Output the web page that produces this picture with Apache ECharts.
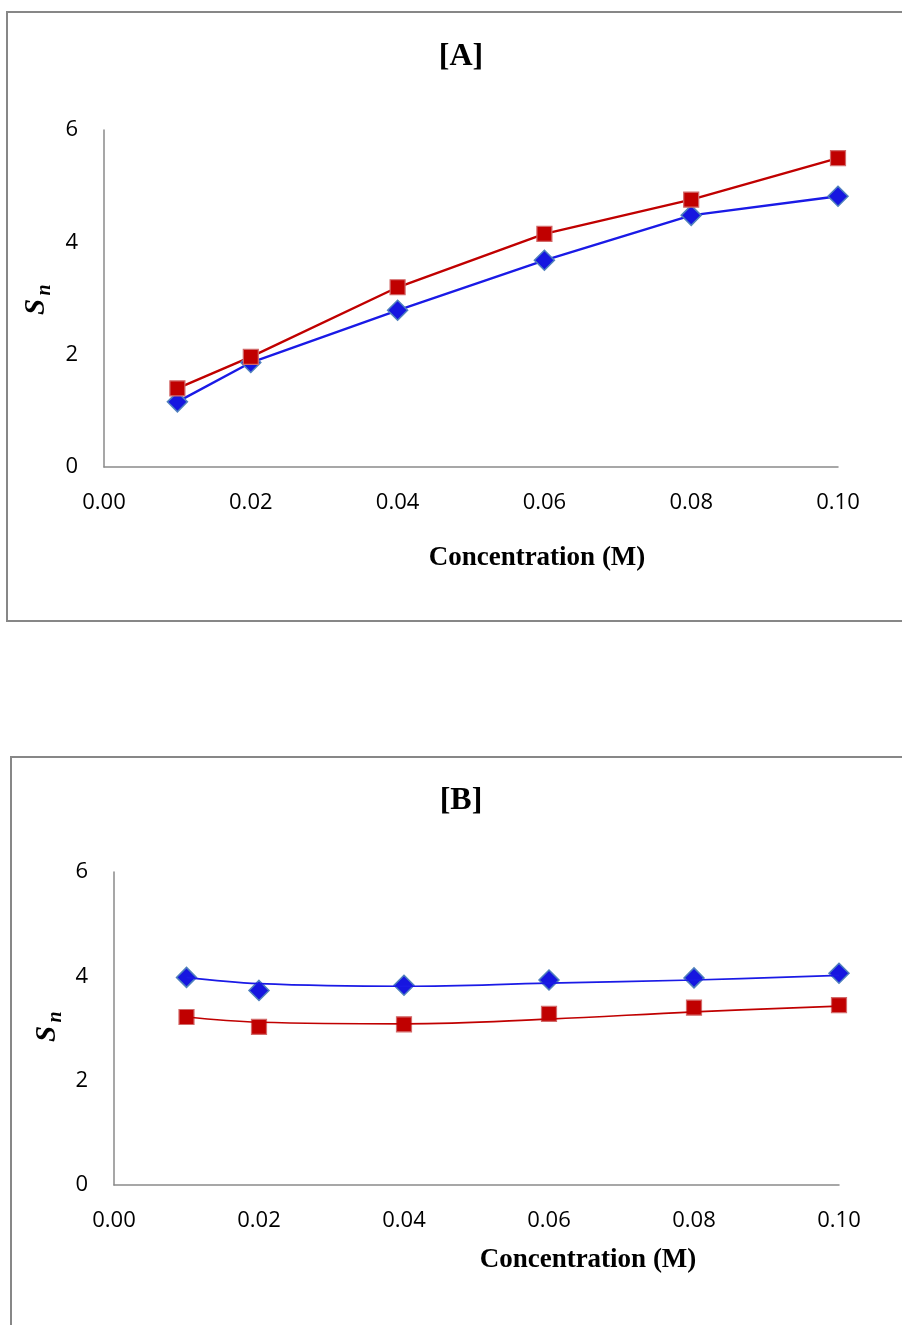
<!DOCTYPE html>
<html>
<head>
<meta charset="utf-8">
<script src="https://cdn.jsdelivr.net/npm/echarts@6/dist/echarts.min.js"></script>
<style>
html,body{margin:0;padding:0;background:#fff;}
#chart{width:902px;height:1325px;}
</style>
</head>
<body>
<div id="chart"></div>
<script>
// ---- data ----
var concentrations = [0.01, 0.02, 0.04, 0.06, 0.08, 0.10];
var xTicks = ['0.00', '0.02', '0.04', '0.06', '0.08', '0.10'];
var yTicks = [0, 2, 4, 6];

// Panel A
var blueA = [1.16, 1.86, 2.79, 3.68, 4.48, 4.82];
var redA  = [1.40, 1.96, 3.20, 4.15, 4.76, 5.50];

// Panel B (markers)
var blueB = [3.98, 3.73, 3.83, 3.93, 3.97, 4.06];
var redB  = [3.22, 3.03, 3.08, 3.28, 3.40, 3.45];
// Panel B (trend lines, as drawn)
var blueBTrend = [3.98, 3.86, 3.81, 3.87, 3.93, 4.02];
var redBTrend  = [3.22, 3.12, 3.09, 3.18, 3.32, 3.43];

var titles = ['[A]', '[B]'];
var xName = 'Concentration (M)';

function pairs(xs, ys){ return xs.map(function(x,i){ return [x, ys[i]]; }); }

var chart = echarts.init(document.getElementById('chart'), null, {renderer:'canvas'});

var axisColor = '#8a8a8a';
var tickFont = {fontFamily:'Open Sans', fontSize:22, color:'#000'};

function xAxisCfg(gi){
  return {
    gridIndex: gi, type:'value', min:0, max:0.1, interval:0.02,
    axisLine:{show:true, lineStyle:{color:axisColor, width:1.5}},
    axisTick:{show:false}, splitLine:{show:false},
    axisLabel:Object.assign({margin:25, formatter:function(v){ return v.toFixed(2); }}, tickFont)
  };
}
function yAxisCfg(gi){
  return {
    gridIndex: gi, type:'value', min:yTicks[0], max:yTicks[yTicks.length-1], interval:2,
    axisLine:{show:true, lineStyle:{color:axisColor, width:1.5}},
    axisTick:{show:false}, splitLine:{show:false},
    axisLabel:Object.assign({margin:26}, tickFont)
  };
}

var blueSym = {symbol:'diamond', symbolSize:20,
  itemStyle:{color:'#1616e0', borderColor:'#4f81bd', borderWidth:1.5, opacity:1}};
var redSym = {symbol:'rect', symbolSize:15,
  itemStyle:{color:'#c00000', borderColor:'#d26a6a', borderWidth:1.2, opacity:1}};

var titleFont = {fontFamily:'Liberation Serif', fontWeight:'bold', fill:'#000'};

function yNameGraphics(cx, cy){
  return [
    {type:'text', x:cx-2, y:cy+9, rotation:Math.PI/2,
     style:Object.assign({text:'S', fontSize:29, fontStyle:'italic', textAlign:'center', textVerticalAlign:'middle'}, titleFont)},
    {type:'text', x:cx+6, y:cy-8, rotation:Math.PI/2,
     style:Object.assign({text:'n', fontSize:20, fontStyle:'italic', textAlign:'center', textVerticalAlign:'middle'}, titleFont)}
  ];
}

var option = {
  animation:false,
  backgroundColor:'#fff',
  grid:[
    {left:104, top:130, width:734, height:337},
    {left:114, top:872, width:725, height:313}
  ],
  xAxis:[xAxisCfg(0), xAxisCfg(1)],
  yAxis:[yAxisCfg(0), yAxisCfg(1)],
  graphic:[
    {type:'rect', shape:{x:7, y:12, width:920, height:609}, style:{fill:null, stroke:'#878787', lineWidth:2}, z:-1},
    {type:'rect', shape:{x:11, y:757, width:920, height:620}, style:{fill:null, stroke:'#878787', lineWidth:2}, z:-1},
    {type:'text', x:461, y:57, style:Object.assign({text:titles[0], fontSize:32, textAlign:'center', textVerticalAlign:'middle'}, titleFont)},
    {type:'text', x:461, y:801, style:Object.assign({text:titles[1], fontSize:32, textAlign:'center', textVerticalAlign:'middle'}, titleFont)},
    {type:'text', x:537, y:558, style:Object.assign({text:xName, fontSize:27, textAlign:'center', textVerticalAlign:'middle'}, titleFont)},
    {type:'text', x:588, y:1260, style:Object.assign({text:xName, fontSize:27, textAlign:'center', textVerticalAlign:'middle'}, titleFont)}
  ].concat(yNameGraphics(39, 298)).concat(yNameGraphics(50, 1025)),
  series:[
    Object.assign({type:'line', xAxisIndex:0, yAxisIndex:0, data:pairs(concentrations, blueA),
      lineStyle:{color:'#1a1ae6', width:2.4}}, blueSym),
    Object.assign({type:'line', xAxisIndex:0, yAxisIndex:0, data:pairs(concentrations, redA),
      lineStyle:{color:'#c00000', width:2.4}}, redSym),
    {type:'line', xAxisIndex:1, yAxisIndex:1, data:pairs(concentrations, blueBTrend), smooth:0.4,
      showSymbol:false, symbol:'none', lineStyle:{color:'#1a1ae6', width:1.7}},
    {type:'line', xAxisIndex:1, yAxisIndex:1, data:pairs(concentrations, redBTrend), smooth:0.4,
      showSymbol:false, symbol:'none', lineStyle:{color:'#c00000', width:1.7}},
    Object.assign({type:'scatter', xAxisIndex:1, yAxisIndex:1, data:pairs(concentrations, blueB)}, blueSym),
    Object.assign({type:'scatter', xAxisIndex:1, yAxisIndex:1, data:pairs(concentrations, redB)}, redSym)
  ]
};
chart.setOption(option);
</script>
</body>
</html>
